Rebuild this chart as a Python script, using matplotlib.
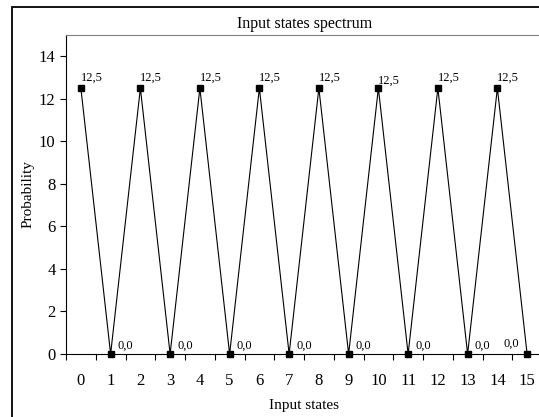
import numpy as np
import matplotlib.pyplot as plt
from matplotlib.patches import Rectangle

plt.rcParams['font.family'] = ['Liberation Serif', 'DejaVu Serif']

# dados
estados = list(range(16))
probabilidade = [12.5, 0.0, 12.5, 0.0, 12.5, 0.0, 12.5, 0.0,
                 12.5, 0.0, 12.5, 0.0, 12.5, 0.0, 12.5, 0.0]
rotulos = ['12,5', '0,0', '12,5', '0,0', '12,5', '0,0', '12,5', '0,0',
           '12,5', '0,0', '12,5', '0,0', '12,5', '0,0', '12,5', '0,0']

W, H = 539, 417
fig = plt.figure(figsize=(W / 100, H / 100), dpi=100)

# moldura externa
fig.patches.append(Rectangle((12 / W, -0.1), 1.2, (H - 7) / H + 0.1,
                             transform=fig.transFigure, fill=False,
                             edgecolor='black', linewidth=1.3))

ax = fig.add_axes([66 / W, 63 / H, 476 / W, 319 / H])
ax.plot(estados, probabilidade, color='black', linewidth=0.8,
        marker='s', markersize=4.5, markerfacecolor='black', clip_on=False)

for x, y, r in zip(estados, probabilidade, rotulos):
    if x == 15:
        ax.annotate(r, (x, y), xytext=(-17, 5), textcoords='offset points', fontsize=9)
    elif y > 0:
        dy = 3 if x == 10 else 5
        ax.annotate(r, (x, y), xytext=(0, dy), textcoords='offset points', fontsize=9)
    else:
        ax.annotate(r, (x, y), xytext=(5, 4), textcoords='offset points', fontsize=9)

ax.set_xlim(-0.5, 15.5)
ax.set_ylim(0, 15)
ax.set_xticks(estados)
ax.set_xticks(np.arange(-0.5, 15.6, 1), minor=True)
ax.tick_params(axis='x', which='major', length=0, labelsize=12, pad=14)
ax.tick_params(axis='x', which='minor', length=4, direction='out', width=0.8)
ax.set_yticks(range(0, 15, 2))
ax.tick_params(axis='y', length=4, direction='out', width=0.8, labelsize=12)

ax.spines['right'].set_visible(False)
ax.spines['top'].set_color('#808080')
ax.spines['left'].set_linewidth(0.8)
ax.spines['bottom'].set_linewidth(0.8)

ax.set_xlabel('Input states', fontsize=11, labelpad=7)
ax.set_ylabel('Probability', fontsize=11, labelpad=3)
fig.text(305 / W, 1 - 24 / H, 'Input states spectrum', fontsize=11.5,
         ha='center', va='center')

fig.savefig('out.png', dpi=100)
